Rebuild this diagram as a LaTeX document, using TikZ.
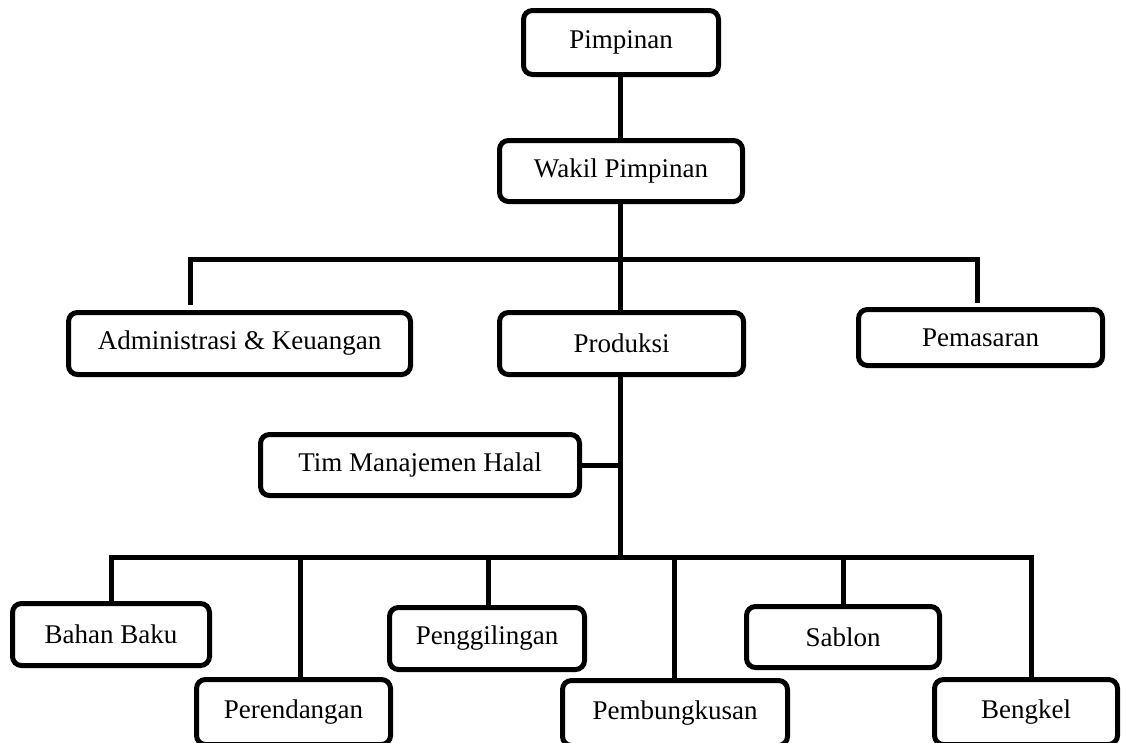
\documentclass[tikz,border=0pt]{standalone}
\usepackage{fontspec}
\setmainfont{Liberation Serif}
\begin{document}
\begin{tikzpicture}[x=1pt,y=-1pt,
  box/.style={draw=black, line width=5pt, rounded corners=9pt, inner sep=0pt, fill=white,
    font=\fontsize{27}{30}\selectfont},
  conn/.style={draw=black, line width=5pt, line join=miter, line cap=butt}]
\useasboundingbox (0,0) rectangle (1123,742);
\clip (0,0) rectangle (1123,742);
% nodes
\node[box, minimum width=195pt, minimum height=64pt] (pim) at (621,42.5) {Pimpinan};
\node[box, minimum width=243pt, minimum height=61pt] (wak) at (621,171) {Wakil Pimpinan};
\node[box, minimum width=342pt, minimum height=62pt] (adm) at (239.5,343.5) {Administrasi \& Keuangan};
\node[box, minimum width=244pt, minimum height=62pt] (prod) at (621.5,343.5) {Produksi};
\node[box, minimum width=244pt, minimum height=56pt] (pem) at (980.5,337.5) {Pemasaran};
\node[box, minimum width=319pt, minimum height=61pt] (tim) at (420,465) {Tim Manajemen Halal};
\node[box, minimum width=197pt, minimum height=62pt] (bb) at (111,634.5) {Bahan Baku};
\node[box, minimum width=194pt, minimum height=65pt] (per) at (293.5,712) {Perendangan};
\node[box, minimum width=195pt, minimum height=62pt] (pgl) at (487,638.5) {Penggilingan};
\node[box, minimum width=225pt, minimum height=65pt] (pbk) at (675,713) {Pembungkusan};
\node[box, minimum width=193pt, minimum height=61pt] (sab) at (843,637) {Sablon};
\node[box, minimum width=183pt, minimum height=65pt] (bkl) at (1026,712) {Bengkel};
% coordinates
\coordinate (hl) at (190,259);
\coordinate (hr) at (977,259);
\coordinate (al) at (190,305);
\coordinate (ar) at (977,303);
\coordinate (pv) at (620,377);
\coordinate (bus) at (620,557);
\coordinate (busL) at (111,557);
\coordinate (busR) at (1031,557);
\coordinate (tPer) at (300,557);
\coordinate (tPgl) at (488,557);
\coordinate (tPbk) at (674,557);
\coordinate (tSab) at (843,557);
% connectors
\draw[conn] (pim.south -| pv) -- (wak.north -| pv);
\draw[conn] (wak.south -| pv) -- (prod.north -| pv);
\draw[conn] (al) -- (hl) -- (hr) -- (ar);
\draw[conn] (prod.south -| pv) -- (bus);
\draw[conn] (tim.east) -- (tim.east -| pv);
\draw[conn] (bb.north -| busL) -- (busL) -- (busR) -- (bkl.north -| busR);
\draw[conn] (tPer) -- (per.north -| tPer);
\draw[conn] (tPgl) -- (pgl.north -| tPgl);
\draw[conn] (tPbk) -- (pbk.north -| tPbk);
\draw[conn] (tSab) -- (sab.north -| tSab);
\end{tikzpicture}
\end{document}
